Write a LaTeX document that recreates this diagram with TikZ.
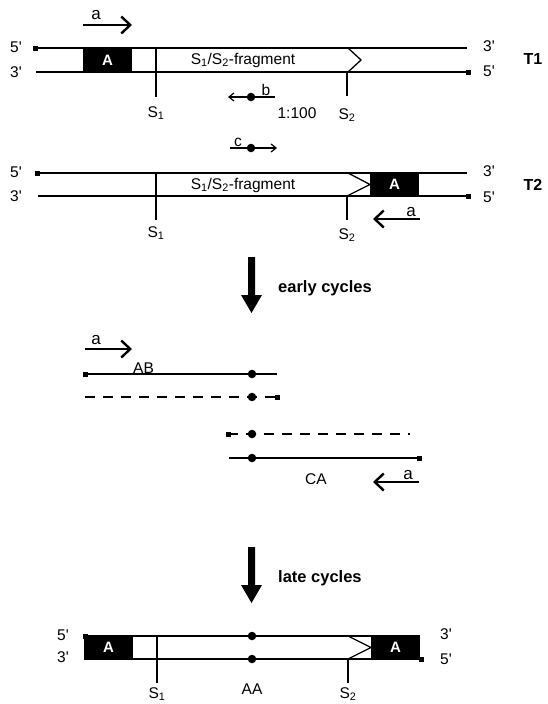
\documentclass[tikz,border=0pt]{standalone}
\usepackage{fontspec}
\setmainfont{Liberation Sans}
\usetikzlibrary{arrows.meta}
\newcommand{\pr}{\textquotesingle}
\tikzset{
  strand/.style={line width=1.6pt},
  sline/.style={line width=1.3pt},
  endsq/.style={draw=none,fill=black,minimum size=5pt,inner sep=0pt,rectangle},
  bead/.style={circle,fill=black,minimum size=8.5pt,inner sep=0pt},
  abox/.style={rectangle,fill=black,text=white,font=\fontsize{15}{15}\selectfont\bfseries,minimum width=49pt,minimum height=23pt,inner sep=0pt},
  txt/.style={font=\fontsize{15.5}{17}\selectfont,inner sep=0pt},
  plbl/.style={font=\fontsize{17}{18}\selectfont,inner sep=0pt},
  btxt/.style={font=\fontsize{16.5}{18}\selectfont\bfseries,inner sep=0pt},
  primer/.style={line width=2.2pt,-{Straight Barb[length=9pt,width=17pt,line width=2.4pt]}},
  smallprimer/.style={line width=1.2pt,-{Straight Barb[length=5pt,width=8pt,line width=1.2pt]}},
  dsh/.style={line width=1.6pt,dash pattern=on 10pt off 8pt},
  bigarrow/.style={fill=black,draw=none},
}
\begin{document}
\begin{tikzpicture}[x=1pt,y=-1pt]
\useasboundingbox (0,0) rectangle (548,704);
% ================= T1 =================
\node[txt] (t1l5) at (16,47) {5\pr};
\node[txt] (t1l3) at (16,72) {3\pr};
\node[txt] (t1r3) at (489,46) {3\pr};
\node[txt] (t1r5) at (489,71) {5\pr};
\node[font=\fontsize{16}{16}\selectfont\bfseries,inner sep=0pt] (t1name) at (533,59) {T1};
\node[endsq] (t1a) at (35,48) {};
\coordinate (t1b) at (467,48);
\draw[strand] (t1a.center) -- (t1b);
\coordinate (t1c) at (36,72);
\node[endsq] (t1d) at (468,72) {};
\draw[strand] (t1c) -- (t1d.center);
\node[abox] (t1A) at (107.5,60) {A};
\coordinate (t1s1t) at (156,48);
\coordinate (t1s1b) at (156,97);
\draw[sline] (t1s1t) -- (t1s1b);
\node[txt] (t1s1) at (156,113) {S\textsubscript{1}};
\node[txt] (t1frag) at (243,60) {S\textsubscript{1}/S\textsubscript{2}-fragment};
\draw[sline] (348,48) -- (361,60) -- (348,72);
\coordinate (t1s2t) at (347,72);
\coordinate (t1s2b) at (347,96);
\draw[sline] (t1s2t) -- (t1s2b);
\node[txt] (t1s2) at (347,115) {S\textsubscript{2}};
% primer a on T1
\coordinate (pa1s) at (83,25);
\coordinate (pa1e) at (132,25);
\draw[primer] (pa1s) -- (pa1e);
\node[plbl] (pa1l) at (96,15) {a};
% primer b
\coordinate (pbs) at (275,97);
\coordinate (pbe) at (228,97);
\draw[smallprimer] (pbs) -- (pbe);
\node[bead] (pbd) at (251,97) {};
\node[txt,anchor=south] (pbl) at (266,96) {b};
\node[txt] (ratio) at (297,113) {1:100};
% primer c
\coordinate (pcs) at (230,148);
\coordinate (pce) at (277,148);
\draw[smallprimer] (pcs) -- (pce);
\node[bead] (pcd) at (251,148) {};
\node[txt,anchor=south] (pcl) at (238,147) {c};
% ================= T2 =================
\node[txt] (t2l5) at (16,172) {5\pr};
\node[txt] (t2l3) at (16,196) {3\pr};
\node[txt] (t2r3) at (489,171) {3\pr};
\node[txt] (t2r5) at (489,197) {5\pr};
\node[font=\fontsize{16}{16}\selectfont\bfseries,inner sep=0pt] (t2name) at (533,185) {T2};
\node[endsq] (t2a) at (37,173) {};
\coordinate (t2b) at (467,173);
\draw[strand] (t2a.center) -- (t2b);
\coordinate (t2c) at (38,196);
\node[endsq] (t2d) at (468,196) {};
\draw[strand] (t2c) -- (t2d.center);
\coordinate (t2s1t) at (156,173);
\coordinate (t2s1b) at (156,220);
\draw[sline] (t2s1t) -- (t2s1b);
\node[txt] (t2s1) at (156,233) {S\textsubscript{1}};
\node[txt] (t2frag) at (243,185) {S\textsubscript{1}/S\textsubscript{2}-fragment};
\node[abox] (t2A) at (394.5,184.5) {A};
\draw[sline] (348,173) -- (370,184.5) -- (347,196);
\coordinate (t2s2t) at (347,196);
\coordinate (t2s2b) at (347,220);
\draw[sline] (t2s2t) -- (t2s2b);
\node[txt] (t2s2) at (347,235) {S\textsubscript{2}};
% primer a on T2
\coordinate (pa2s) at (420,219);
\coordinate (pa2e) at (373,219);
\draw[primer] (pa2s) -- (pa2e);
\node[plbl,anchor=south] (pa2l) at (411,217) {a};
% ================= early cycles =================
\fill[bigarrow] (248,257) -- (255,257) -- (255,295) -- (262,295) -- (251.5,313) -- (241,295) -- (248,295) -- cycle;
\node[btxt,anchor=base west] (early) at (278,292) {early cycles};
% primer a
\coordinate (pa3s) at (85,349);
\coordinate (pa3e) at (132,349);
\draw[primer] (pa3s) -- (pa3e);
\node[plbl] (pa3l) at (96,340) {a};
% AB strand
\node[endsq] (ab1) at (85,374) {};
\coordinate (ab2) at (277,374);
\draw[strand] (ab1.center) -- (ab2);
\node[bead] (abd) at (252,374) {};
\node[txt,anchor=south] (abl) at (143.5,374) {AB};
% dashed complementary
\coordinate (da1) at (85,397);
\node[endsq] (da2) at (277,397) {};
\draw[dsh] (da1) -- (da2.center);
\node[bead] (dad) at (252,397) {};
% dashed second
\node[endsq] (db1) at (228,434) {};
\coordinate (db2) at (410,434);
\draw[dsh] (db1.center) -- (db2);
\node[bead] (dbd) at (252,434) {};
% CA strand
\coordinate (ca1) at (229,458);
\node[endsq] (ca2) at (419,458) {};
\draw[strand] (ca1) -- (ca2.center);
\node[bead] (cad) at (252,458) {};
\node[txt] (cal) at (316,479) {CA};
% primer a left
\coordinate (pa4s) at (419,482);
\coordinate (pa4e) at (373,482);
\draw[primer] (pa4s) -- (pa4e);
\node[plbl,anchor=south] (pa4l) at (408,480) {a};
% ================= late cycles =================
\fill[bigarrow] (248,547) -- (255,547) -- (255,585) -- (262,585) -- (251.5,603) -- (241,585) -- (248,585) -- cycle;
\node[btxt,anchor=base west] (late) at (278,582) {late cycles};
% ================= AA =================
\node[txt] (aal5) at (63,635) {5\pr};
\node[txt] (aal3) at (63,657) {3\pr};
\node[txt] (aar3) at (446,634) {3\pr};
\node[txt] (aar5) at (446,659) {5\pr};
\node[endsq] (aa1) at (85,636) {};
\coordinate (aa2) at (420,636);
\draw[strand] (aa1.center) -- (aa2);
\coordinate (aa3) at (84,659);
\node[endsq] (aa4) at (421,659) {};
\draw[strand] (aa3) -- (aa4.center);
\node[abox] (aaA1) at (108.5,647.5) {A};
\node[abox] (aaA2) at (395.5,647.5) {A};
\coordinate (aas1t) at (157,636);
\coordinate (aas1b) at (157,683);
\draw[sline] (aas1t) -- (aas1b);
\node[txt] (aas1) at (157,694) {S\textsubscript{1}};
\draw[sline] (348,636) -- (371,647.5) -- (348,659);
\coordinate (aas2t) at (348,659);
\coordinate (aas2b) at (348,683);
\draw[sline] (aas2t) -- (aas2b);
\node[txt] (aas2) at (348,694) {S\textsubscript{2}};
\node[bead] (aad1) at (252,636) {};
\node[bead] (aad2) at (252,659) {};
\node[txt] (aal) at (252,689) {AA};
\end{tikzpicture}
\end{document}
